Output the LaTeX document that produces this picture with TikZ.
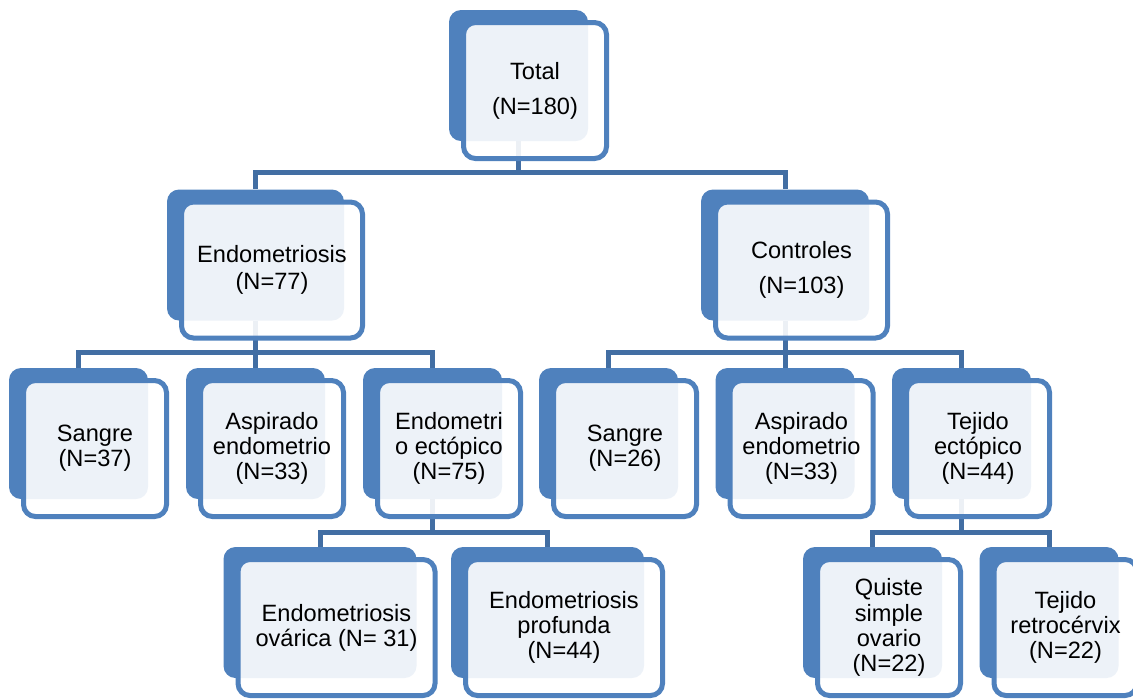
\documentclass[tikz,border=0pt]{standalone}
\usepackage{fontspec}
\setmainfont{Liberation Sans}
\definecolor{boxblue}{RGB}{79,129,189}
\definecolor{linkblue}{RGB}{66,110,163}
\begin{document}
\begin{tikzpicture}[x=0.5pt,y=-0.5pt,
    backbox/.style={fill=boxblue, rounded corners=6pt, minimum height=65.5pt, inner sep=0pt},
    frontbox/.style={draw=boxblue, line width=2.5pt, fill=white, fill opacity=0.9, text opacity=1,
        rounded corners=6pt, minimum height=68pt, inner sep=0pt, align=center,
        font=\fontsize{11.8pt}{12.6pt}\selectfont},
    link/.style={draw=linkblue, line width=2.5pt}]
    \clip (0,0) rectangle (1133,698);

    \node[backbox, minimum width=69.5pt] (total) at (518.5,75.5) {};
    \node[backbox, minimum width=88.5pt] (endo) at (255.5,255) {};
    \node[backbox, minimum width=84pt] (ctrl) at (785,255) {};
    \node[backbox, minimum width=69.5pt] (sangreA) at (78.5,433.5) {};
    \node[backbox, minimum width=69.5pt] (aspA) at (255.5,433.5) {};
    \node[backbox, minimum width=69.5pt] (ecto) at (432.5,433.5) {};
    \node[backbox, minimum width=69.5pt] (sangreB) at (608.5,433.5) {};
    \node[backbox, minimum width=69.5pt] (aspB) at (785,433.5) {};
    \node[backbox, minimum width=69.5pt] (tejido) at (961.5,433.5) {};
    \node[backbox, minimum width=96.5pt] (ovar) at (320,612.5) {};
    \node[backbox, minimum width=96.5pt] (prof) at (547.5,612.5) {};
    \node[backbox, minimum width=69.5pt] (quiste) at (872.5,612.5) {};
    \node[backbox, minimum width=69.5pt] (retro) at (1049,612.5) {};

    \foreach \c in {endo,ctrl}
        \draw[link] (total.south) -- ++(0,31) -| (\c.north);
    \foreach \c in {sangreA,aspA,ecto}
        \draw[link] (endo.south) -- ++(0,31.5) -| (\c.north);
    \foreach \c in {sangreB,aspB,tejido}
        \draw[link] (ctrl.south) -- ++(0,31.5) -| (\c.north);
    \foreach \c in {ovar,prof}
        \draw[link] (ecto.south) -- ++(0,33) -| (\c.north);
    \foreach \c in {quiste,retro}
        \draw[link] (tejido.south) -- ++(0,33) -| (\c.north);

    \node[frontbox, minimum width=71.5pt] (totalf) at ([shift={(16.5,15)}]total.center) {Total\\[5pt](N=180)};
    \node[frontbox, minimum width=90.5pt] (endof) at ([shift={(16.5,15)}]endo.center) {Endometriosis\\[1pt](N=77)};
    \node[frontbox, minimum width=86pt] (ctrlf) at ([shift={(16.5,15)}]ctrl.center) {Controles\\[5pt](N=103)};
    \node[frontbox, minimum width=71.5pt] (sangreAf) at ([shift={(16.5,15)}]sangreA.center) {Sangre\\(N=37)};
    \node[frontbox, minimum width=71.5pt] (aspAf) at ([shift={(16.5,15)}]aspA.center) {Aspirado\\endometrio\\(N=33)};
    \node[frontbox, minimum width=71.5pt] (ectof) at ([shift={(16.5,15)}]ecto.center) {Endometri\\o ectópico\\(N=75)};
    \node[frontbox, minimum width=71.5pt] (sangreBf) at ([shift={(16.5,15)}]sangreB.center) {Sangre\\(N=26)};
    \node[frontbox, minimum width=71.5pt] (aspBf) at ([shift={(16.5,15)}]aspB.center) {Aspirado\\endometrio\\(N=33)};
    \node[frontbox, minimum width=71.5pt] (tejidof) at ([shift={(16.5,15)}]tejido.center) {Tejido\\ectópico\\(N=44)};
    \node[frontbox, minimum width=98.5pt] (ovarf) at ([shift={(16.5,15)}]ovar.center) {Endometriosis\\ovárica (N= 31)};
    \node[frontbox, minimum width=98.5pt] (proff) at ([shift={(16.5,15)}]prof.center) {Endometriosis\\profunda\\(N=44)};
    \node[frontbox, minimum width=71.5pt] (quistef) at ([shift={(16.5,15)}]quiste.center) {Quiste\\simple\\ovario\\(N=22)};
    \node[frontbox, minimum width=71.5pt] (retrof) at ([shift={(16.5,15)}]retro.center) {Tejido\\retrocérvix\\(N=22)};
\end{tikzpicture}
\end{document}
